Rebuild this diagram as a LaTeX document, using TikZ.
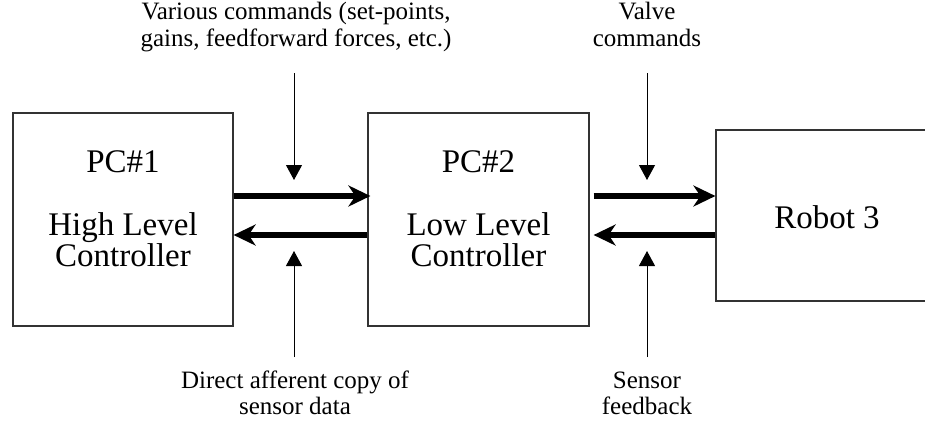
\documentclass[tikz,border=0pt]{standalone}
\usepackage{fontspec}
\setmainfont{Liberation Serif}
\usetikzlibrary{arrows.meta}
\begin{document}
\begin{tikzpicture}[x=1pt,y=-1pt,
  box/.style={draw=black!80, line width=1.2pt, rectangle, inner sep=0pt},
  big/.style={font=\fontsize{33}{33}\selectfont, inner sep=0pt, anchor=base},
  lab/.style={font=\fontsize{25}{27}\selectfont, inner sep=0pt, anchor=base},
  bus/.style={line width=6pt, -{Stealth[length=22pt,width=21pt,inset=7pt]}},
  sig/.style={line width=1pt, -{Triangle[length=15pt,width=16pt]}}]
\useasboundingbox (0,0) rectangle (925,421);
\clip (0,0) rectangle (925,421);

% boxes
\node[box, minimum width=220pt, minimum height=213pt] (b1) at (123,219.5) {};
\node[box, minimum width=221pt, minimum height=213pt] (b2) at (478.5,219.5) {};
\node[box, minimum width=222pt, minimum height=171pt] (rb) at (827,215.5) {};

% box texts
\node[big] (p1) at (123,172.7) {PC\#1};
\node[big] (h1) at (123,235) {High Level};
\node[big] (c1) at (123,266.7) {Controller};
\node[big] (p2) at (478.5,172.7) {PC\#2};
\node[big] (h2) at (478.5,235) {Low Level};
\node[big] (c2) at (478.5,266.7) {Controller};
\node[big] (rt) at (827,228.3) {Robot 3};

% labels
\node[lab] (l1a) at (296,19) {Various commands (set-points,};
\node[lab] (l1b) at (296,46) {gains, feedforward forces, etc.)};
\node[lab] (l2a) at (647,19) {Valve};
\node[lab] (l2b) at (647,46) {commands};
\node[lab] (l3a) at (295,388) {Direct afferent copy of};
\node[lab] (l3b) at (295,414) {sensor data};
\node[lab] (l4a) at (647,388) {Sensor};
\node[lab] (l4b) at (647,414) {feedback};

% helper coordinates
\coordinate (ua) at (0,196);
\coordinate (la) at (0,235);
\coordinate (s1) at (294,73);
\coordinate (e1) at (294,180);
\coordinate (s2) at (647,73);
\coordinate (e2) at (647,180);
\coordinate (s3) at (294,357);
\coordinate (e3) at (294,251);
\coordinate (s4) at (647,357);
\coordinate (e4) at (647,251);

% bus arrows
\draw[bus] (b1.east |- ua) -- ([xshift=3pt]b2.west |- ua);
\draw[bus] (b2.west |- la) -- (b1.east |- la);
\draw[bus] ([xshift=4pt]b2.east |- ua) -- (rb.west |- ua);
\draw[bus] (rb.west |- la) -- ([xshift=4pt]b2.east |- la);

% signal arrows
\draw[sig] (s1) -- (e1);
\draw[sig] (s2) -- (e2);
\draw[sig] (s3) -- (e3);
\draw[sig] (s4) -- (e4);
\end{tikzpicture}
\end{document}
